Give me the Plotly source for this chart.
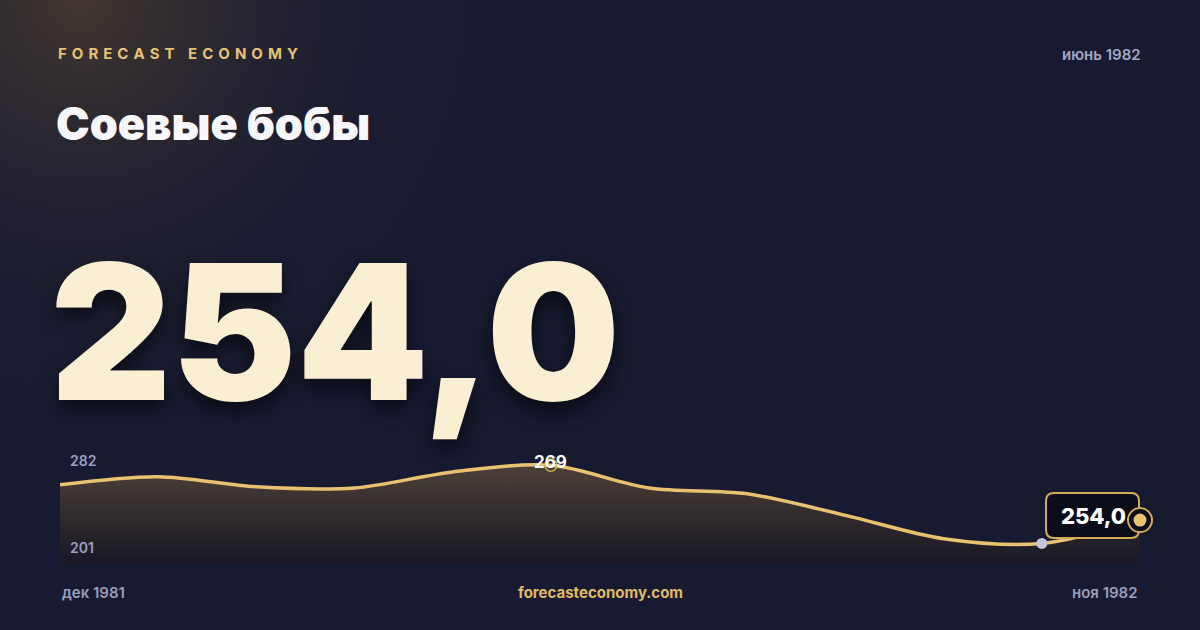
import plotly.graph_objects as go

# monthly soybean quotes, dec 1981 - nov 1982
months = ["дек 1981", "янв 1982", "фев 1982", "мар 1982", "апр 1982", "май 1982",
          "июнь 1982", "июль 1982", "авг 1982", "сен 1982", "окт 1982", "ноя 1982"]
prices = [263.7, 265.9, 263.1, 262.8, 267.2, 269.0, 262.8, 261.2, 255.3, 248.9, 247.6, 254.0]
scale_labels = ["282", "201"]

brand = "FORECAST ECONOMY"
title = "Соевые бобы"
issue = "июнь 1982"
site = "forecasteconomy.com"

GOLD = "#e8c270"
RING = "#d6ab55"
BG = "#171a31"
FONT = "Inter"

x = list(range(len(prices)))
last = len(prices) - 1
i_max = prices.index(max(prices))
i_min = prices.index(min(prices))

def fmt(v):
    return ("%.1f" % v).replace(".", ",")

fig = go.Figure()

# warm glow in the top-left corner (background subplot in pixel units)
fig.add_trace(go.Scatter(
    x=[-520, 680, 680, -520, -520], y=[30, 30, 1230, 1230, 30],
    mode="lines", line=dict(width=0), fill="toself",
    fillgradient=dict(type="radial",
                      colorscale=[[0, "rgba(80,64,46,0.75)"], [0.5, "rgba(40,36,50,0.25)"],
                                  [1, "rgba(23,26,49,0)"]]),
    hoverinfo="skip", showlegend=False, xaxis="x", yaxis="y"))

# area + line
fig.add_trace(go.Scatter(
    x=x, y=prices, mode="lines",
    line=dict(color=GOLD, width=3.5, shape="spline", smoothing=0.9),
    fill="tozeroy",
    fillgradient=dict(type="vertical", start=241.7, stop=max(prices),
                      colorscale=[[0, "rgba(24,23,36,1)"], [1, "rgba(76,64,56,1)"]]),
    hoverinfo="skip", showlegend=False, xaxis="x2", yaxis="y2"))

# max ring
fig.add_trace(go.Scatter(
    x=[i_max], y=[prices[i_max]], mode="markers",
    marker=dict(symbol="circle-open", size=12, color=RING, line=dict(width=1.5)),
    hoverinfo="skip", showlegend=False, xaxis="x2", yaxis="y2"))
# min dot
fig.add_trace(go.Scatter(
    x=[i_min], y=[prices[i_min]], mode="markers",
    marker=dict(size=11, color="#c4c6dc"),
    hoverinfo="skip", showlegend=False, xaxis="x2", yaxis="y2"))

# last value badge (pixel-sized shapes anchored on the last point)
box = ("M -86,27 L -9,27 Q -1,27 -1,19 L -1,-10 Q -1,-18 -9,-18 "
       "L -86,-18 Q -94,-18 -94,-10 L -94,19 Q -94,27 -86,27 Z")
fig.add_shape(type="path", path=box, xref="x2", yref="y2",
              xsizemode="pixel", ysizemode="pixel", xanchor=last, yanchor=prices[-1],
              fillcolor="#0b0d1a", line=dict(color=RING, width=2), layer="above")
fig.add_shape(type="circle", xref="x2", yref="y2", xsizemode="pixel", ysizemode="pixel",
              xanchor=last, yanchor=prices[-1], x0=-12, x1=12, y0=-12, y1=12,
              fillcolor="#0b0d1a", line=dict(color=RING, width=2), layer="above")
fig.add_shape(type="circle", xref="x2", yref="y2", xsizemode="pixel", ysizemode="pixel",
              xanchor=last, yanchor=prices[-1], x0=-6.5, x1=6.5, y0=-6.5, y1=6.5,
              fillcolor=GOLD, line=dict(width=0), layer="above")

ann = []
ann.append(dict(x=last, y=prices[-1], xref="x2", yref="y2", text=fmt(prices[-1]),
                showarrow=False, xanchor="center", yanchor="middle", xshift=-47, yshift=4,
                font=dict(family=FONT, size=22, color="white", weight=800)))
ann.append(dict(x=i_max, y=prices[i_max], xref="x2", yref="y2", text="%d" % round(prices[i_max]),
                showarrow=False, xanchor="center", yanchor="middle", yshift=3,
                font=dict(family=FONT, size=17, color="white", weight=700)))

# header / footer texts
spaced = "\u2004 \u2004".join("\u2004".join(w) for w in brand.split(" "))
ann.append(dict(x=56 / 1200, y=1 - 53 / 630, xref="paper", yref="paper", text=spaced,
                showarrow=False, xanchor="left", yanchor="middle",
                font=dict(family=FONT, size=15, color="#e6c273", weight=700)))
ann.append(dict(x=1143 / 1200, y=1 - 54 / 630, xref="paper", yref="paper", text=issue,
                showarrow=False, xanchor="right", yanchor="middle",
                font=dict(family=FONT, size=15, color="#a5a7c2", weight=600)))
ann.append(dict(x=54 / 1200, y=1 - 124 / 630, xref="paper", yref="paper", text=title,
                showarrow=False, xanchor="left", yanchor="middle",
                font=dict(family=FONT, size=45, color="#f8f8fc", weight=900)))
ann.append(dict(x=48 / 1200, y=1 - 331 / 630, xref="paper", yref="paper", text=fmt(prices[-1]),
                showarrow=False, xanchor="left", yanchor="middle",
                font=dict(family=FONT, size=188, color="#faefd3", weight=900,
                          shadow="0px 10px 20px rgba(0,0,0,0.55)")))
ann.append(dict(x=60 / 1200, y=1 - 592 / 630, xref="paper", yref="paper", text=months[0],
                showarrow=False, xanchor="left", yanchor="middle",
                font=dict(family=FONT, size=15, color="#9c9eb8", weight=600)))
ann.append(dict(x=1140 / 1200, y=1 - 592 / 630, xref="paper", yref="paper", text=months[-1],
                showarrow=False, xanchor="right", yanchor="middle",
                font=dict(family=FONT, size=15, color="#9c9eb8", weight=600)))
ann.append(dict(x=0.5, y=1 - 592 / 630, xref="paper", yref="paper", text=site,
                showarrow=False, xanchor="center", yanchor="middle",
                font=dict(family=FONT, size=15, color="#e0b964", weight=700)))
ann.append(dict(x=68 / 1200, y=1 - 461 / 630, xref="paper", yref="paper", text=scale_labels[0],
                showarrow=False, xanchor="left", yanchor="middle",
                font=dict(family=FONT, size=14, color="#9d9fbd", weight=600)))
ann.append(dict(x=68 / 1200, y=1 - 547 / 630, xref="paper", yref="paper", text=scale_labels[1],
                showarrow=False, xanchor="left", yanchor="middle",
                font=dict(family=FONT, size=14, color="#9d9fbd", weight=600)))

# x axis padded on the right so the end marker is not clipped
pad = 0.21
hidden = dict(visible=False, fixedrange=True)
fig.update_layout(
    width=1200, height=630,
    margin=dict(l=0, r=0, t=0, b=0),
    paper_bgcolor=BG, plot_bgcolor="rgba(0,0,0,0)",
    xaxis=dict(hidden, domain=[0, 1], range=[0, 1200]),
    yaxis=dict(hidden, domain=[0, 1], range=[0, 630]),
    xaxis2=dict(hidden, domain=[0.05, 0.05 + 0.9 * (last + pad) / last], range=[0, last + pad],
                anchor="y2"),
    yaxis2=dict(hidden, domain=[1 - 565 / 630, 1 - 450 / 630], range=[241.7, 273.2], anchor="x2"),
    annotations=ann,
    showlegend=False,
)

fig.write_html("out.html", config={"displayModeBar": False},
               post_script="document.body.style.margin='0';document.body.style.background='%s';" % BG)
